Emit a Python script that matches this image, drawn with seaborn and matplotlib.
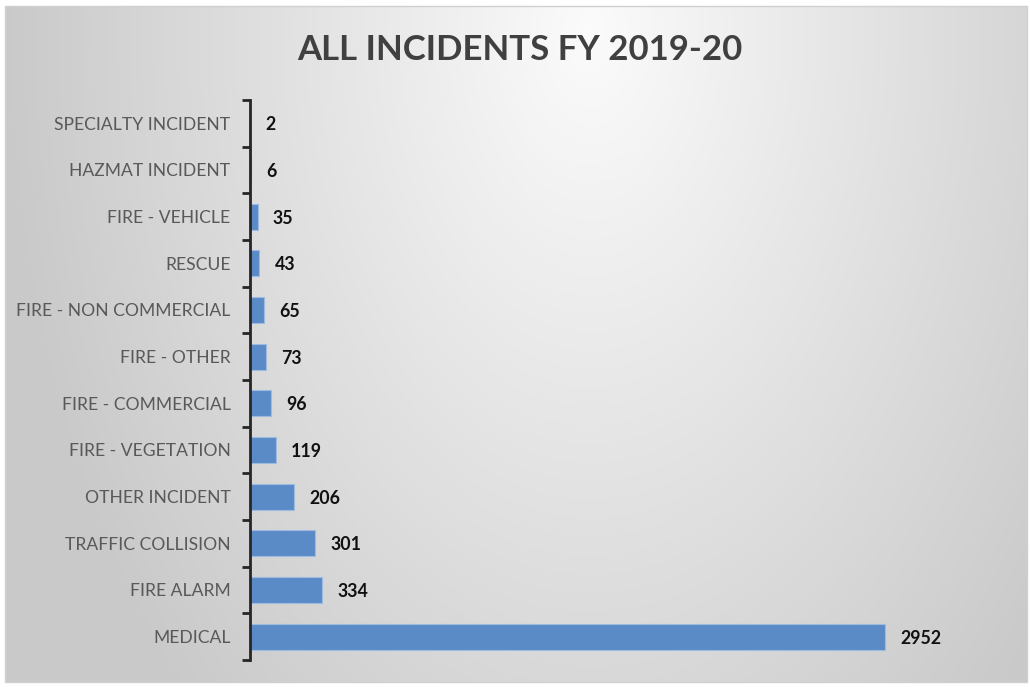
import numpy as np
import pandas as pd
import matplotlib
matplotlib.use("Agg")
import matplotlib.pyplot as plt
from matplotlib.patches import Rectangle
from matplotlib.ticker import FixedLocator
import seaborn as sns

categories = ["SPECIALTY INCIDENT", "HAZMAT INCIDENT", "FIRE - VEHICLE", "RESCUE",
              "FIRE - NON COMMERCIAL", "FIRE - OTHER", "FIRE - COMMERCIAL",
              "FIRE - VEGETATION", "OTHER INCIDENT", "TRAFFIC COLLISION",
              "FIRE ALARM", "MEDICAL"]
counts = [2, 6, 35, 43, 65, 73, 96, 119, 206, 301, 334, 2952]
title = "ALL INCIDENTS FY 2019-20"

sns.set_theme(style="white")
plt.rcParams['font.family'] = ['Lato', 'DejaVu Sans']

W, H = 1030, 687
fig = plt.figure(figsize=(W / 100, H / 100), dpi=100)

# background gradient
bg = fig.add_axes([0, 0, 1, 1], zorder=-10)
yy, xx = np.mgrid[0:H, 0:W]
cx, cy = 590, 30
t = np.sqrt(((xx - cx) / 600.0) ** 2 + ((yy - cy) / 950.0) ** 2)
val = np.clip(0.985 - 0.2 * t, 0.79, 1.0)
img = np.dstack([val, val, val])
# white outer margin
img[:6, :, :] = 1.0
img[:, :5, :] = 1.0
img[682:, :, :] = 1.0
img[:, 1027:, :] = 1.0
bg.imshow(img, extent=[0, W, H, 0], aspect='auto', interpolation='bilinear')
bg.add_patch(Rectangle((5, 6), 1022, 676, fill=False, edgecolor='#d0d0d0', lw=1))
bg.set_xlim(0, W)
bg.set_ylim(H, 0)
bg.axis('off')

# main axes
left = 250 / W
bottom = 1 - 660 / H
height = (660 - 100) / H
xmax = 3200
width = (635 * xmax / 2952) / W
ax = fig.add_axes([left, bottom, width, height])
ax.set_facecolor('none')

df = pd.DataFrame({"category": categories, "count": counts})
sns.barplot(data=df, x="count", y="category", orient="h", color="#5b8bc6",
            saturation=1, width=0.56, ax=ax, order=categories,
            edgecolor="#9dbbe0", linewidth=0.8)

ax.set_xlim(0, xmax)
ax.set_ylim(len(categories) - 0.5, -0.5)
ax.set_xlabel("")
ax.set_ylabel("")
ax.set_xticks([])
for s in ["top", "right", "bottom"]:
    ax.spines[s].set_visible(False)
ax.spines["left"].set_color("#262626")
ax.spines["left"].set_linewidth(2)

ax.tick_params(axis='y', which='major', length=0, pad=14, labelsize=12.6,
               labelcolor='#595959')
ax.yaxis.set_minor_locator(FixedLocator(np.arange(-0.5, len(categories), 1.0)))
ax.tick_params(axis='y', which='minor', length=6, width=2, color='#262626',
               direction='out', left=True)

for i, v in enumerate(counts):
    ax.annotate(f"{v}", xy=(v, i), xytext=(11, -1), textcoords='offset points',
                va='center', ha='left', fontsize=12.8, fontweight='bold',
                color='#111111')

fig.text(0.505, 1 - 50 / H, title, ha='center', va='center', fontsize=25,
         fontweight='bold', color='#404040')

fig.savefig("out.png", dpi=100)
